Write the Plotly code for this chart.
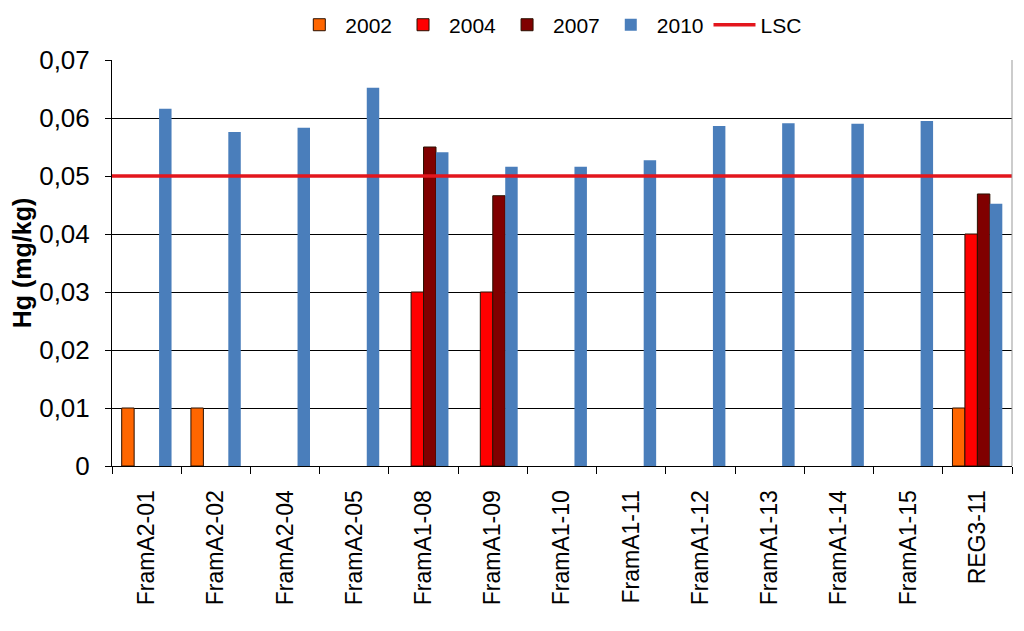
import plotly.graph_objects as go

# stations and Hg values (mg/kg) per sampling year; None = not sampled
stations = ['FramA2-01', 'FramA2-02', 'FramA2-04', 'FramA2-05', 'FramA1-08', 'FramA1-09',
            'FramA1-10', 'FramA1-11', 'FramA1-12', 'FramA1-13', 'FramA1-14', 'FramA1-15', 'REG3-11']
hg_2002 = [0.01, 0.01, None, None, None, None, None, None, None, None, None, None, 0.01]
hg_2004 = [None, None, None, None, 0.03, 0.03, None, None, None, None, None, None, 0.04]
hg_2007 = [None, None, None, None, 0.055, 0.0466, None, None, None, None, None, None, 0.0469]
hg_2010 = [0.0616, 0.0576, 0.0583, 0.0652, 0.0541, 0.0516, 0.0516, 0.0527, 0.0586, 0.0591,
           0.059, 0.0595, 0.0452]
lsc = 0.05

font = 'Arial, Liberation Sans, sans-serif'

fig = go.Figure()
series = [('2002', hg_2002, '#FF6600', 1), ('2004', hg_2004, '#FF0000', 1),
          ('2007', hg_2007, '#800000', 1), ('2010', hg_2010, '#4A7EBB', 0)]
for name, vals, col, lw in series:
    fig.add_trace(go.Bar(x=stations, y=vals, name=name,
                         marker=dict(color=col, line=dict(color='#2a1000', width=lw))))

# LSC limit line across the whole plot width
fig.add_trace(go.Scatter(x=[0, 1], y=[lsc, lsc], xaxis='x2', mode='lines', name='LSC',
                         line=dict(color='#E3161D', width=3.5)))

# page body adds an 8px offset, so the figure is a bit smaller than the window
fig.update_layout(
    width=1016, height=623,
    margin=dict(l=104, r=12, t=52, b=165, autoexpand=False),
    paper_bgcolor='white', plot_bgcolor='white',
    separators=', ',
    font=dict(family=font, color='black', size=20),
    barmode='group', bargap=0.28, bargroupgap=0,
    showlegend=True,
    legend=dict(orientation='h', x=0.487, xanchor='center', y=1.086, yanchor='middle',
                font=dict(size=21), traceorder='normal', itemwidth=42),
    xaxis=dict(type='category', tickangle=-90, tickfont=dict(size=23), automargin=False,
               ticklabelstandoff=14,
               showline=True, linecolor='black', linewidth=1,
               ticks='outside', tickson='boundaries', ticklen=7, tickcolor='black',
               showgrid=False),
    xaxis2=dict(overlaying='x', range=[0, 1], visible=False),
    yaxis=dict(range=[0, 0.07], dtick=0.01, tickformat='.2~f', automargin=False,
               ticklabelstandoff=10,
               showline=True, linecolor='black', linewidth=1,
               ticks='outside', ticklen=6, tickcolor='black',
               showgrid=True, gridcolor='black', gridwidth=1, zeroline=False,
               tickfont=dict(size=26),
               title=dict(text='<b>Hg (mg/kg)</b>', font=dict(size=25), standoff=3)),
    shapes=[dict(type='line', xref='paper', yref='paper', x0=1, x1=1, y0=0, y1=1,
                 line=dict(color='#999999', width=1))],
)

fig.write_html('out.html')
